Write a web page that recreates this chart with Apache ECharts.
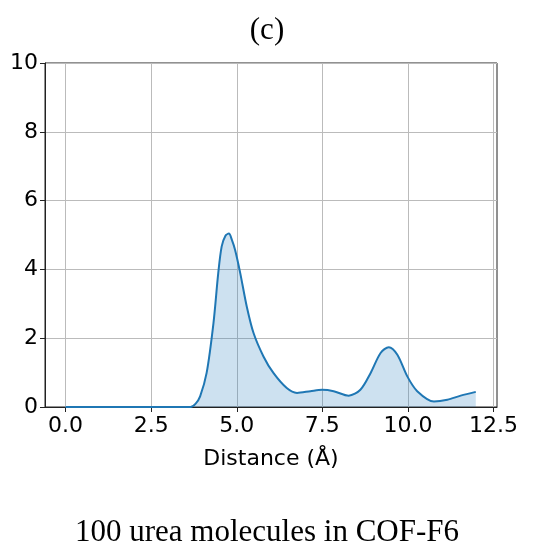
<!DOCTYPE html>
<html>
<head>
<meta charset="utf-8">
<script src="https://cdn.jsdelivr.net/npm/echarts@6/dist/echarts.min.js"></script>
<style>
  html, body { margin: 0; padding: 0; background: #fff; }
  #rdf { width: 534px; height: 550px; }
</style>
</head>
<body>
<div id="rdf"></div>
<script>
// distance (Å) and density
var distance = [0, 1, 2, 3, 3.5, 3.65, 3.8, 3.93, 4.12, 4.32, 4.46, 4.56, 4.67, 4.77, 4.86, 4.95, 5.1, 5.29, 5.49, 5.78, 6.07, 6.46, 6.76, 7.15, 7.49, 7.83, 8.27, 8.61, 8.91, 9.2, 9.44, 9.69, 9.98, 10.27, 10.76, 11.15, 11.54, 11.98];
var density = [0, 0, 0, 0, 0, 0, 0.1, 0.31, 0.99, 2.44, 3.9, 4.67, 4.98, 5.04, 4.85, 4.57, 3.9, 2.93, 2.15, 1.47, 0.99, 0.55, 0.41, 0.46, 0.5, 0.46, 0.33, 0.5, 0.99, 1.57, 1.74, 1.52, 0.89, 0.46, 0.16, 0.21, 0.33, 0.44];
var xTicks = [0, 2.5, 5, 7.5, 10, 12.5];

var myChart = echarts.init(document.getElementById('rdf'));

var points = distance.map(function (d, i) { return [d, density[i]]; });

var option = {
  animation: false,
  title: [
    {
      text: '(c)',
      left: 'center',
      top: 10,
      textStyle: { fontFamily: 'Liberation Serif', fontSize: 31, fontWeight: 'normal', color: '#000' }
    },
    {
      text: '100 urea molecules in COF-F6',
      left: 'center',
      top: 512,
      textStyle: { fontFamily: 'Liberation Serif', fontSize: 31, fontWeight: 'normal', color: '#000' }
    }
  ],
  grid: {
    left: 45,
    top: 63,
    right: 37,
    bottom: 143,
    show: true,
    borderColor: '#222',
    borderWidth: 1
  },
  xAxis: {
    type: 'value',
    min: -0.6,
    max: 12.6,
    name: 'Distance (Å)',
    nameLocation: 'middle',
    nameGap: 41,
    nameTextStyle: { fontFamily: 'DejaVu Sans', fontSize: 22, color: '#000' },
    axisLine: { lineStyle: { color: '#222', width: 1 } },
    axisTick: { customValues: xTicks, length: 5, lineStyle: { color: '#222' } },
    axisLabel: {
      customValues: xTicks,
      fontFamily: 'DejaVu Sans',
      fontSize: 22,
      color: '#000',
      margin: 8,
      formatter: function (v) { return v.toFixed(1); }
    },
    splitLine: { show: true, lineStyle: { color: '#bbbbbb', width: 1 } }
  },
  yAxis: {
    type: 'value',
    min: 0,
    max: 10,
    interval: 2,
    axisLine: { show: true, onZero: false, lineStyle: { color: '#222', width: 1 } },
    axisTick: { show: true, length: 5, lineStyle: { color: '#222' } },
    axisLabel: { fontFamily: 'DejaVu Sans', fontSize: 22, color: '#000', margin: 7 },
    splitLine: { show: true, lineStyle: { color: '#bbbbbb', width: 1 } }
  },
  series: [
    {
      type: 'line',
      data: points,
      smooth: 0.3,
      showSymbol: false,
      lineStyle: { color: '#1f77b4', width: 2 },
      areaStyle: { color: 'rgba(40,125,190,0.33)', origin: 'start' }
    }
  ]
};

myChart.setOption(option);
</script>
</body>
</html>
